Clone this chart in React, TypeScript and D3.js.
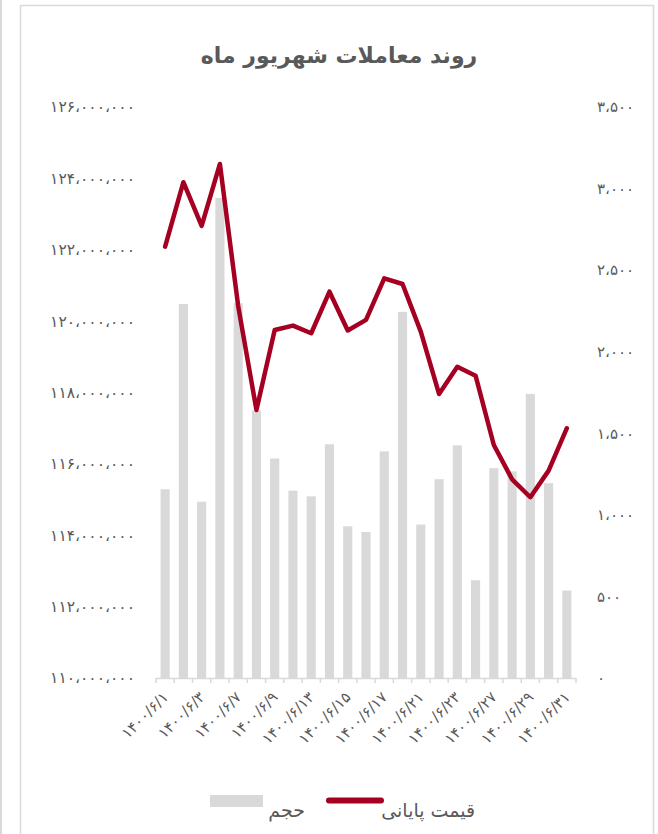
import React from "react";
import * as d3 from "d3";

const days = [1, 2, 3, 6, 7, 8, 9, 10, 13, 14, 15, 16, 17, 20, 21, 22, 23, 24, 27, 28, 29, 30, 31];
const categories = days.map((d) => `1400/6/${d}`);
// volume (left axis)
const volume = [
  115.29e6, 120.48e6, 114.94e6, 123.45e6, 120.5e6, 117.5e6, 116.15e6, 115.25e6, 115.09e6, 116.55e6,
  114.25e6, 114.09e6, 116.35e6, 120.26e6, 114.3e6, 115.57e6, 116.52e6, 112.74e6, 115.88e6, 115.79e6,
  117.96e6, 115.46e6, 112.45e6,
];
// closing price (right axis)
const price = [
  2644, 3039, 2771, 3151, 2280, 1643, 2133, 2160, 2113, 2368, 2130, 2195, 2450, 2415, 2123, 1741,
  1908, 1853, 1428, 1218, 1108, 1271, 1531,
];
const leftTicks = [110e6, 112e6, 114e6, 116e6, 118e6, 120e6, 122e6, 124e6, 126e6];
const rightTicks = [0, 500, 1000, 1500, 2000, 2500, 3000, 3500];
const title = "روند معاملات شهریور ماه";
const seriesNames = { volume: "حجم", price: "قیمت پایانی" };

const fa = "۰۱۲۳۴۵۶۷۸۹";
const toFa = (s: string) => s.replace(/[0-9]/g, (c) => fa[+c]);
const fmt = (v: number) => toFa(d3.format(",")(v)).replace(/,/g, "،");

const W = 658, H = 834;
const plot = { left: 156, right: 576, top: 107, bottom: 678 };
const textColor = "#595959";
const gridGray = "#d9d9d9";
const red = "#a50021";
const font = "'DejaVu Sans', 'Noto Sans', sans-serif";

export default function App() {
  const x = d3.scaleBand<string>().domain(categories).range([plot.left, plot.right]).paddingInner(0.5).paddingOuter(0.25);
  const xCenter = (c: string) => (x(c) as number) + x.bandwidth() / 2;
  const yL = d3.scaleLinear().domain([110e6, 126e6]).range([plot.bottom, plot.top]);
  const yR = d3.scaleLinear().domain([0, 3500]).range([plot.bottom, plot.top]);
  const line = d3
    .line<number>()
    .x((_, i) => xCenter(categories[i]))
    .y((d) => yR(d));
  const boundaries = d3.range(categories.length + 1).map((i) => plot.left + i * ((plot.right - plot.left) / categories.length));

  return (
    <svg width={W} height={H} style={{ position: "absolute", left: 0, top: 0, background: "#fff" }} fontFamily={font}>
      <line x1={1} x2={1} y1={0} y2={H} stroke={gridGray} strokeWidth={2} />
      <rect x={20.5} y={5.5} width={633} height={H + 10} fill="#fff" stroke={gridGray} strokeWidth={1.5} />
      <text x={339} y={63} textAnchor="middle" fontSize={22} fontWeight="bold" fill={textColor}>
        {title}
      </text>
      {/* left axis labels */}
      {leftTicks.map((t) => (
        <text key={"l" + t} x={135} y={yL(t)} dy="0.35em" textAnchor="end" fontSize={15.5} letterSpacing={1.9} fill={textColor} direction="ltr">
          {fmt(t)}
        </text>
      ))}
      {rightTicks.map((t) => (
        <text key={"r" + t} x={597} y={yR(t)} dy="0.35em" textAnchor="start" fontSize={15} letterSpacing={0.6} fill={textColor} direction="ltr">
          {fmt(t)}
        </text>
      ))}
      {/* bars */}
      {categories.map((c, i) => (
        <rect key={c} x={x(c)} y={yL(volume[i])} width={x.bandwidth()} height={plot.bottom - yL(volume[i])} fill={gridGray} />
      ))}
      {/* x axis */}
      <line x1={plot.left} x2={plot.right} y1={plot.bottom + 0.5} y2={plot.bottom + 0.5} stroke={gridGray} strokeWidth={1.5} />
      {boundaries.map((b, i) => (
        <line key={"t" + i} x1={b} x2={b} y1={plot.bottom} y2={plot.bottom + 5} stroke={gridGray} strokeWidth={1.5} />
      ))}
      {categories.map((c, i) =>
        i % 2 === 0 ? (
          <text
            key={"x" + c}
            transform={`translate(${xCenter(c) + 4},${plot.bottom + 20}) rotate(-45)`}
            textAnchor="end"
            fontSize={15}
            letterSpacing={1.8}
            fill={textColor}
            direction="ltr"
          >
            {toFa(c)}
          </text>
        ) : null
      )}
      {/* line */}
      <path d={line(price) || ""} fill="none" stroke={red} strokeWidth={4.5} strokeLinejoin="round" strokeLinecap="round" />
      {/* legend */}
      <rect x={210} y={795} width={53} height={12} fill={gridGray} />
      <text x={305} y={817} textAnchor="end" fontSize={19} fill={textColor}>
        {seriesNames.volume}
      </text>
      <line x1={329} x2={381} y1={800.5} y2={800.5} stroke={red} strokeWidth={6} strokeLinecap="round" />
      <text x={475} y={817} textAnchor="end" fontSize={19} fill={textColor}>
        {seriesNames.price}
      </text>
    </svg>
  );
}
